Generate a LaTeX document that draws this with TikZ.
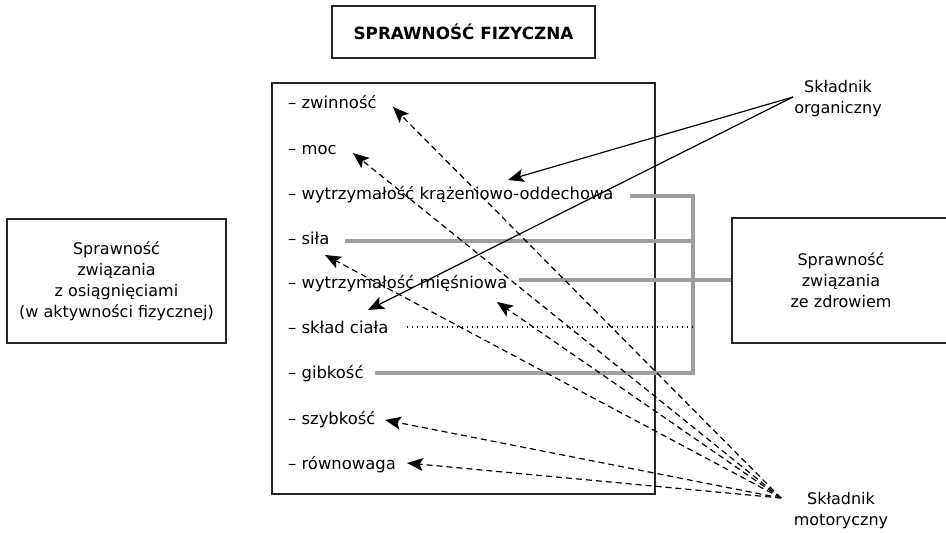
\documentclass[tikz,border=0pt]{standalone}
\usepackage{fontspec}
\setmainfont{DejaVu Sans}
\usetikzlibrary{arrows.meta,calc}
\begin{document}
\begin{tikzpicture}[x=1pt,y=-1pt,
  every node/.style={font=\fontsize{16}{21}\selectfont, inner sep=0pt},
  frame/.style={draw=black!85, line width=1.3pt},
  boxtext/.style={align=center},
  item/.style={anchor=base west, font=\fontsize{16.4}{21}\selectfont},
  graybar/.style={draw=black!38, line width=4pt},
  arr/.style={draw=black, line width=1.2pt, -{Stealth[length=16pt,width=13pt,inset=3.5pt]}},
  dasharr/.style={arr, dash pattern=on 6pt off 4pt}
]
\useasboundingbox (0,0) rectangle (946,533);
% title
\node[frame, minimum width=263pt, minimum height=52pt, font=\fontsize{16.8}{21}\selectfont\bfseries] (title) at (463.5,32) {SPRAWNOŚĆ FIZYCZNA};
% main box
\node[frame, minimum width=383pt, minimum height=411pt] (main) at (463.5,288.5) {};
% side boxes
\node[frame, minimum width=219pt, minimum height=124pt, boxtext] (left) at (116.5,281) {Sprawność\\związania\\z osiągnięciami\\(w aktywności fizycznej)};
\node[frame, minimum width=218pt, minimum height=125pt, boxtext] (right) at (841,280.5) {Sprawność\\związania\\ze zdrowiem};
% labels
\node[boxtext] (org) at (838,99) {Składnik\\organiczny};
\node[boxtext] (mot) at (841,511) {Składnik\\motoryczny};
% items
\node[item] (zw) at (288,108) {– zwinność};
\node[item] (moc) at (288,154) {– moc};
\node[item] (kr) at (288,199) {– wytrzymałość krążeniowo-oddechowa};
\node[item] (sila) at (288,244) {– siła};
\node[item] (mies) at (288,288) {– wytrzymałość mięśniowa};
\node[item] (sklad) at (288,333) {– skład ciała};
\node[item] (gib) at (288,378) {– gibkość};
\node[item] (szyb) at (288,424) {– szybkość};
\node[item] (rown) at (288,469) {– równowaga};
% gray connection lines
\coordinate (krE) at (630,196);
\coordinate (busT) at (693,196);
\coordinate (busB) at (693,373);
\coordinate (gibE) at (375,373);
\coordinate (silaE) at (345,241);
\coordinate (silaB) at (693,241);
\coordinate (miesE) at (519,280);
\coordinate (skE) at (407,327);
\coordinate (skB) at (693,327);
\draw[graybar] (krE) -- (busT) -- (busB) -- (gibE);
\draw[graybar] (silaE) -- (silaB);
\draw[graybar] (miesE) -- (miesE -| right.west);
\draw[black, line width=1.1pt, dash pattern=on 1.2pt off 3.8pt] (skE) -- (skB);
% organic arrows
\coordinate (orgP) at (793,97);
\coordinate (tKr) at (508,180);
\coordinate (tSk) at (368,310);
\draw[arr] (orgP) -- (tKr);
\draw[arr] (orgP) -- (tSk);
% motor arrows
\coordinate (motP) at (781,498);
\coordinate (tZw) at (393,107);
\coordinate (tMoc) at (353,153);
\coordinate (tSila) at (325,255);
\coordinate (tMies) at (497,302);
\coordinate (tSzyb) at (385,420);
\coordinate (tRown) at (407,463);
\foreach \t in {tZw,tMoc,tSila,tMies,tSzyb,tRown}
  \draw[dasharr] (motP) -- (\t);
\end{tikzpicture}
\end{document}
